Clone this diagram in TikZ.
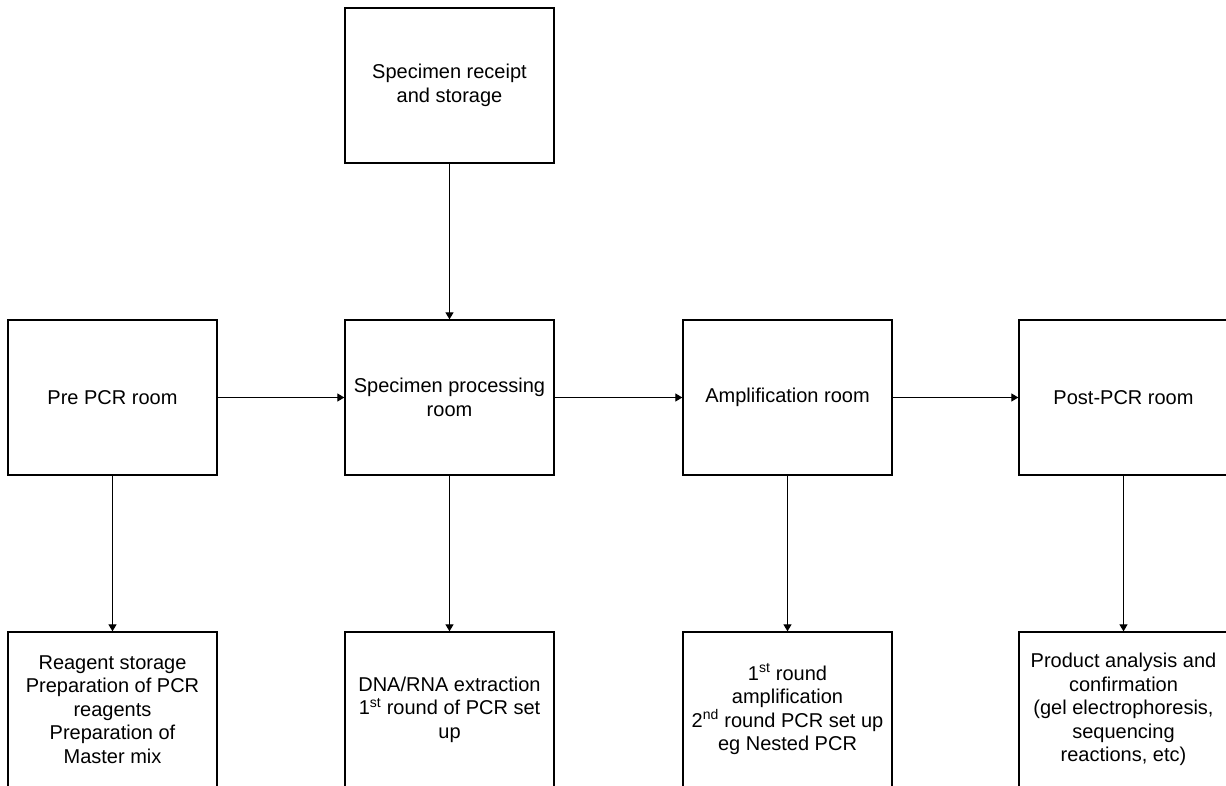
\documentclass[tikz,border=0pt]{standalone}
\usepackage{fontspec}
\setmainfont{Liberation Sans}
\usetikzlibrary{arrows.meta}
\begin{document}
\begin{tikzpicture}[x=1pt,y=-1pt,
  room/.style={draw=black, line width=1.3pt, minimum width=209pt, minimum height=155pt,
    inner sep=0pt, align=center, font=\fontsize{20}{23.5}\selectfont},
  flow/.style={draw=black, line width=1.2pt, -{Triangle[length=7pt,width=8pt]}, shorten >=0pt}]
\useasboundingbox (0,0) rectangle (1226,785);
\clip (0,0) rectangle (1226,785);
\fill[white] (0,0) rectangle (1226,785);
\node[room] (recv) at (449.5,85.5) {Specimen receipt\\and storage};
\node[room] (pre)  at (112.5,397.5) {Pre PCR room};
\node[room] (proc) at (449.5,397.5) {Specimen processing\\room};
\node[room] (amp)  at (787.5,397.5) {Amplification room};
\node[room] (post) at (1123.5,397.5) {Post-PCR room};
\node[room] (reag) at (112.5,709.5) {Reagent storage\\Preparation of PCR\\reagents\\Preparation of\\Master mix};
\node[room] (dna)  at (449.5,709.5) {DNA/RNA extraction\\1\textsuperscript{st} round of PCR set\\up};
\node[room] (rnd)  at (787.5,709.5) {1\textsuperscript{st} round\\amplification\\2\textsuperscript{nd} round PCR set up\\eg Nested PCR};
\node[room] (prod) at (1123.5,709.5) {Product analysis and\\confirmation\\(gel electrophoresis,\\sequencing\\reactions, etc)};
\draw[flow] (recv) -- (proc);
\draw[flow] (pre) -- (proc);
\draw[flow] (proc) -- (amp);
\draw[flow] (amp) -- (post);
\draw[flow] (pre) -- (reag);
\draw[flow] (proc) -- (dna);
\draw[flow] (amp) -- (rnd);
\draw[flow] (post) -- (prod);
\end{tikzpicture}
\end{document}
